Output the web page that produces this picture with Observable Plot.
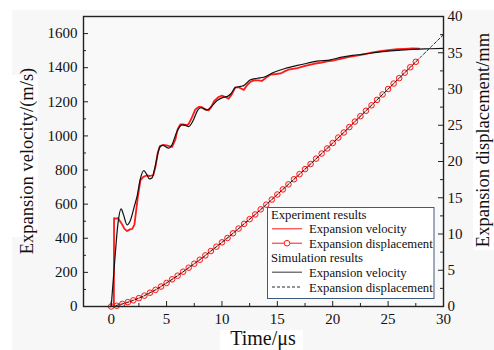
<!DOCTYPE html>
<html><head><meta charset="utf-8">
<script src="https://cdn.jsdelivr.net/npm/d3@7"></script>
<script src="https://cdn.jsdelivr.net/npm/@observablehq/plot@0.6"></script>
<style>html,body{margin:0;padding:0;background:#fff;} svg{display:block;}</style>
</head><body><div id="chart"></div>
<script>
// ---- data ----
const expVelTime = [0.24,0.26,0.4,0.6,0.8,1.0,1.2,1.44,1.7,1.9,2.1,2.4,2.64,2.9,3.2,3.5,3.8,4.0,4.2,4.4,4.7,5.0,5.5,5.8,6.0,6.25,6.5,6.8,7.0,7.3,7.6,7.9,8.2,8.5,8.8,9.0,9.3,9.7,10.0,10.3,10.6,10.9,11.2,11.5,11.97,12.3,12.6,12.9,13.3,13.6,14.0,14.4,14.9,15.3,15.7,16.0,16.8,17.5,18.3,19.0,19.5,20.0,20.7,21.5,22.3,22.8,23.5,24.3,25.0,25.8,26.5,27.2,27.8];
const expVelocity = [0,518,515,518,500,480,455,442,452,455,480,640,740,760,768,765,770,820,900,940,948,945,935,980,1040,1068,1068,1063,1070,1110,1155,1170,1168,1155,1150,1165,1205,1228,1236,1228,1218,1245,1285,1285,1270,1300,1318,1325,1325,1322,1342,1360,1363,1366,1380,1388,1398,1410,1423,1430,1437,1442,1452,1463,1472,1478,1488,1497,1503,1508,1510,1513,1512];

const simVelTime = [0,0.3,0.6,0.9,1.1,1.44,1.7,2.1,2.35,2.6,2.95,3.2,3.45,3.7,4.0,4.39,4.65,5.2,5.5,5.9,6.4,6.7,7.0,7.4,7.8,8.1,8.66,9.0,9.57,10.16,10.5,10.8,11.2,11.67,11.97,12.57,13.2,13.77,14.7,15.7,16.8,17.7,18.6,19.8,20.7,21.8,22.8,24.0,25.0,25.8,26.8,27.8,28.8,30.0];
const simVelocity = [0,250,480,572,540,478,500,590,650,740,797,775,748,755,830,935,945,928,950,1020,1065,1062,1055,1090,1150,1165,1152,1170,1207,1227,1232,1247,1283,1290,1295,1329,1338,1344,1373,1395,1413,1426,1438,1446,1460,1472,1479,1490,1497,1501,1506,1509,1511,1513];

const expDispTime = [0,0.5,1,1.5,2,2.5,3,3.5,4,4.5,5,5.5,6,6.5,7,7.5,8,8.5,9,9.5,10,10.5,11,11.5,12,12.5,13,13.5,14,14.5,15,15.5,16,16.5,17,17.5,18,18.5,19,19.5,20,20.5,21,21.5,22,22.5,23,23.5,24,24.5,25,25.5,26,26.5,27,27.5];
const expDisplacement = [0,0.1,0.35,0.6,0.85,1.15,1.5,1.9,2.3,2.75,3.25,3.75,4.25,4.8,5.35,5.9,6.45,7.05,7.65,8.25,8.85,9.45,10.1,10.75,11.4,12.05,12.7,13.4,14.05,14.75,15.45,16.15,16.85,17.55,18.25,18.95,19.65,20.4,21.1,21.8,22.55,23.3,24.0,24.75,25.5,26.25,27.0,27.75,28.5,29.25,30.0,30.75,31.5,32.25,33.0,33.75];

const simDispTime = [0,1,2,3,4,5,6,7,8,9,10,11,12,13,14,15,16,17,18,19,20,21,22,23,24,25,26,27,28,29,30];
const simDisplacement = [0,0.35,0.85,1.5,2.3,3.25,4.25,5.35,6.45,7.65,8.85,10.1,11.4,12.7,14.05,15.45,16.85,18.25,19.65,21.1,22.55,24.0,25.5,27.0,28.5,30.0,31.5,33.0,34.5,36.0,37.5];

const xTicks = [0,5,10,15,20,25,30];
const xMinor = [-2.5,2.5,7.5,12.5,17.5,22.5,27.5];
const yLeftTicks = [0,200,400,600,800,1000,1200,1400,1600];
const yLeftMinor = [100,300,500,700,900,1100,1300,1500,1700];
const yRightTicks = [0,5,10,15,20,25,30,35,40];
const yRightMinor = [2.5,7.5,12.5,17.5,22.5,27.5,32.5,37.5];

const legendTitles = ["Experiment results","Simulation results"];
const legendItems = ["Expansion velocity","Expansion displacement"];

// ---- build tables ----
const k = 1700 / 40; // right axis (mm) mapped onto left scale
const expV = expVelTime.map((t,i)=>({t, v: expVelocity[i]}));
const simV = simVelTime.map((t,i)=>({t, v: simVelocity[i]}));
const expD = expDispTime.map((t,i)=>({t, d: expDisplacement[i]}));
const simD = simDispTime.map((t,i)=>({t, d: simDisplacement[i]}));

const W = 494, H = 350, ML = 83, MR = 51, MT = 16, MB = 44;
const FW = W - ML - MR, FH = H - MT - MB;
const RED = "#ff1a1a";

const chart = Plot.plot({
  width: W, height: H,
  marginLeft: ML, marginRight: MR, marginTop: MT, marginBottom: MB,
  style: {background: "transparent", fontFamily: "'Liberation Serif', 'Times New Roman', serif", color: "#111"},
  x: {domain: [-2.5, 30]},
  y: {domain: [0, 1700]},
  marks: [
    Plot.frame({fill: "#f9f9f9"}),
    // displacement
    Plot.line(expD, {x: "t", y: d => d.d * k, stroke: RED, strokeWidth: 1}),
    Plot.dot(expD, {x: "t", y: d => d.d * k, r: 2.8, stroke: RED, strokeWidth: 1, fill: "#ffd0d0", fillOpacity: 0.5}),
    Plot.line(simD, {x: "t", y: d => d.d * k, stroke: "#111", strokeWidth: 0.9, strokeDasharray: "3,2", curve: "monotone-x"}),
    // velocity
    Plot.line(expV, {x: "t", y: "v", stroke: RED, strokeWidth: 1.8}),
    Plot.line(simV, {x: "t", y: "v", stroke: "#111", strokeWidth: 1.2, curve: "monotone-x"}),
    // ticks (inward)
    Plot.tickY(yLeftTicks, {y: d => d, insetRight: FW - 5, stroke: "#222"}),
    Plot.tickY(yLeftMinor, {y: d => d, insetRight: FW - 3, stroke: "#222"}),
    Plot.tickY(yRightTicks, {y: d => d * k, insetLeft: FW - 5, stroke: "#222"}),
    Plot.tickY(yRightMinor, {y: d => d * k, insetLeft: FW - 3, stroke: "#222"}),
    Plot.tickX(xTicks, {x: d => d, insetTop: FH - 5, stroke: "#222"}),
    Plot.tickX(xMinor, {x: d => d, insetTop: FH - 3, stroke: "#222"}),
    // axes labels
    Plot.axisY(yLeftTicks, {anchor: "left", tickSize: 0, tickPadding: 6, fontSize: 15, label: null, tickFormat: d => String(d)}),
    Plot.axisY(yRightTicks.map(d => d * k), {anchor: "right", tickSize: 0, tickPadding: 4, fontSize: 15, label: null, tickFormat: d => String(Math.round(d / k))}),
    Plot.axisX(xTicks, {anchor: "bottom", tickSize: 0, tickPadding: 7, fontSize: 15, label: null, tickFormat: d => String(d)}),
    Plot.frame({stroke: "#222", strokeWidth: 1.4})
  ]
});

const svg = d3.select(chart);
// background patches
const bg = svg.insert("g", ":first-child");
bg.append("rect").attr("x", 12).attr("y", 10).attr("width", W - 12).attr("height", H - 10).attr("fill", "#f7f7f7");
bg.append("rect").attr("x", 0).attr("y", 75).attr("width", 38).attr("height", 162).attr("fill", "#fff");
bg.append("rect").attr("x", 220).attr("y", 330).attr("width", 83).attr("height", 20).attr("fill", "#fff");
bg.append("rect").attr("x", 473).attr("y", 90).attr("width", 21).attr("height", 160).attr("fill", "#fff");

const font = "'Liberation Serif', 'Times New Roman', serif";
// axis titles
svg.append("text").attr("transform", `translate(33,${MT + FH / 2}) rotate(-90)`)
  .attr("text-anchor", "middle").attr("font-family", font).attr("font-size", 18.5).attr("fill", "#111")
  .text("Expansion velocity/(m/s)");
svg.append("text").attr("transform", `translate(489,140) rotate(-90)`)
  .attr("text-anchor", "middle").attr("font-family", font).attr("font-size", 18.5).attr("fill", "#111")
  .text("Expansion displacement/mm");
svg.append("text").attr("x", ML + FW / 2).attr("y", 345)
  .attr("text-anchor", "middle").attr("font-family", font).attr("font-size", 20).attr("fill", "#111")
  .text("Time/μs");

// legend
const lg = svg.append("g").attr("font-family", font).attr("font-size", 12.7).attr("fill", "#111").attr("text-anchor", "start");
lg.append("rect").attr("x", 267.5).attr("y", 207.5).attr("width", 166.5).attr("height", 91)
  .attr("fill", "#fff").attr("stroke", "#3d5a80").attr("stroke-width", 1);
const rowY = [219, 233.3, 247.7, 262.3, 276.7, 291.5];
lg.append("text").attr("x", 271).attr("y", rowY[0]).text(legendTitles[0]);
lg.append("text").attr("x", 271).attr("y", rowY[3]).text(legendTitles[1]);
[1,2,4,5].forEach((r, i) => {
  lg.append("text").attr("x", 309).attr("y", rowY[r]).text(legendItems[i % 2]);
});
const sy = r => rowY[r] - 4.5;
lg.append("line").attr("x1", 272).attr("x2", 302).attr("y1", sy(1)).attr("y2", sy(1)).attr("stroke", RED).attr("stroke-width", 1);
lg.append("line").attr("x1", 272).attr("x2", 302).attr("y1", sy(2)).attr("y2", sy(2)).attr("stroke", RED).attr("stroke-width", 1);
lg.append("circle").attr("cx", 287).attr("cy", sy(2)).attr("r", 2.8).attr("fill", "#fff").attr("stroke", RED);
lg.append("line").attr("x1", 272).attr("x2", 302).attr("y1", sy(4)).attr("y2", sy(4)).attr("stroke", "#555").attr("stroke-width", 1.2);
lg.append("line").attr("x1", 272).attr("x2", 302).attr("y1", sy(5)).attr("y2", sy(5)).attr("stroke", "#111").attr("stroke-width", 0.9).attr("stroke-dasharray", "3,2");

document.getElementById("chart").appendChild(chart);
</script>
</body></html>
